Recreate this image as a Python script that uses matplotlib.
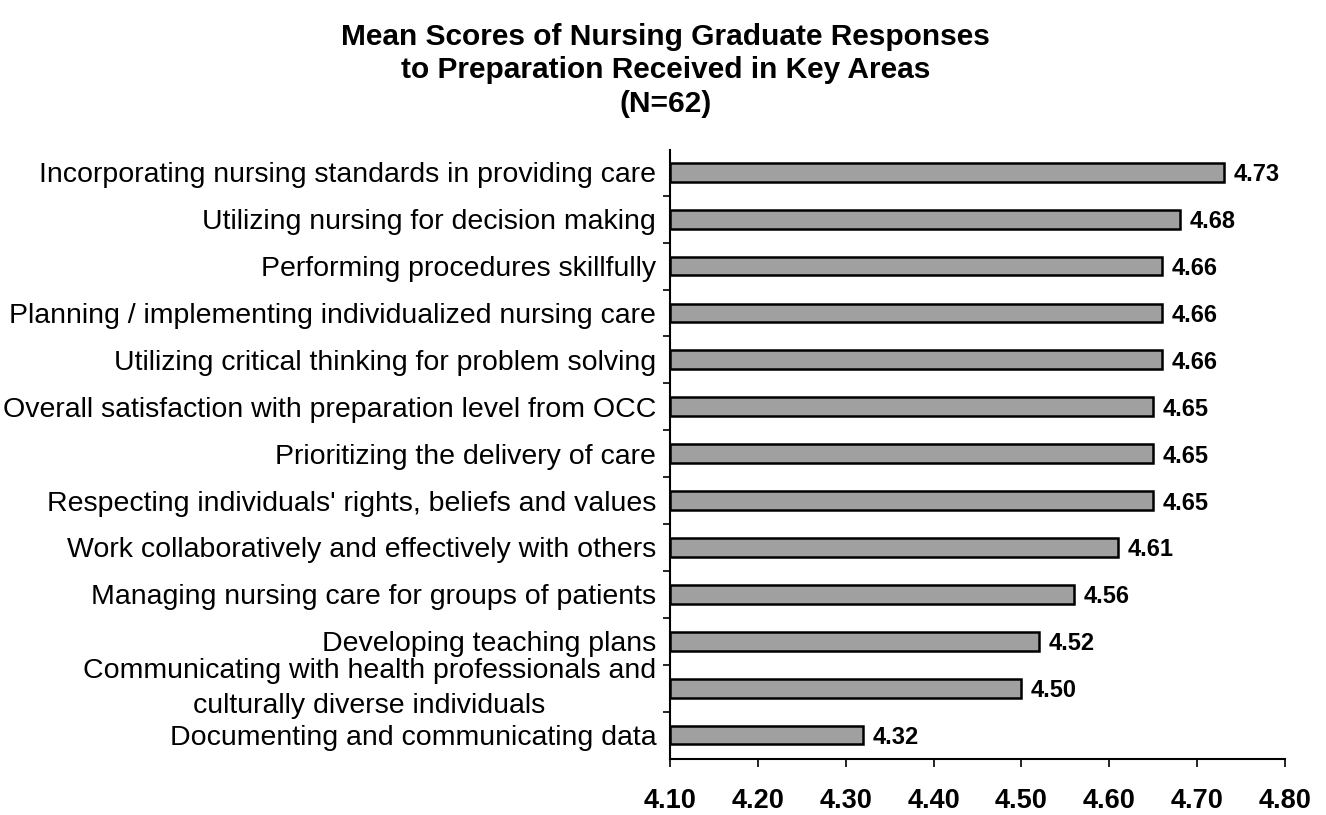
import matplotlib
matplotlib.use("Agg")
import matplotlib.pyplot as plt
from matplotlib.transforms import ScaledTranslation
import numpy as np

# categories top to bottom, as printed
areas = [
    "Incorporating nursing standards in providing care",
    "Utilizing nursing for decision making",
    "Performing procedures skillfully",
    "Planning / implementing individualized nursing care",
    "Utilizing critical thinking for problem solving",
    "Overall satisfaction with preparation level from OCC",
    "Prioritizing the delivery of care",
    "Respecting individuals' rights, beliefs and values",
    "Work collaboratively and effectively with others",
    "Managing nursing care for groups of patients",
    "Developing teaching plans",
    "Communicating with health professionals and\nculturally diverse individuals",
    "Documenting and communicating data",
]
scores = [4.73, 4.68, 4.66, 4.66, 4.66, 4.65, 4.65, 4.65, 4.61, 4.56, 4.52, 4.50, 4.32]
xticks = [4.10, 4.20, 4.30, 4.40, 4.50, 4.60, 4.70, 4.80]

plt.rcParams["font.family"] = ["Liberation Sans", "DejaVu Sans"]

fig = plt.figure(figsize=(13.26, 8.15), dpi=100)
ax = fig.add_axes([0.5053, 0.0687, 0.4638, 0.747])

y = np.arange(len(areas))
ax.barh(y, np.array(scores) - 4.10, left=4.10, height=0.4,
        color="#a0a0a0", edgecolor="black", linewidth=1.8)
for yi, v in zip(y, scores):
    ax.text(v + 0.011, yi, f"{v:.2f}", va="center_baseline", ha="left",
            fontsize=17, fontweight="bold")

ax.set_xlim(4.10, 4.80)
ax.set_ylim(len(areas) - 0.49, -0.47)
ax.set_xticks(xticks)
ax.set_xticklabels([f"{t:.2f}" for t in xticks], fontsize=19.5,
                   fontweight="bold")
ax.set_yticks(y)
ax.set_yticklabels(areas, fontsize=20.5, multialignment="center",
                   linespacing=1.45)
ax.set_yticks(np.arange(len(areas) - 1) + 0.5, minor=True)
ax.tick_params(axis="y", which="major", length=0, pad=10)
ax.tick_params(axis="y", which="minor", length=5, width=1.2, direction="out")
ax.tick_params(axis="x", length=6, width=1.2, direction="out", pad=15)
for s in ("top", "right"):
    ax.spines[s].set_visible(False)
for s in ("left", "bottom"):
    ax.spines[s].set_linewidth(1.5)

# the two-line label sits a little above its bar in the original
two_line = ax.get_yticklabels()[11]
two_line.set_transform(two_line.get_transform()
                       + ScaledTranslation(0, 5 / 72, fig.dpi_scale_trans))

fig.text(0.502, 0.972,
         "Mean Scores of Nursing Graduate Responses\n"
         "to Preparation Received in Key Areas\n(N=62)",
         ha="center", va="top", fontsize=21.5, fontweight="bold",
         linespacing=1.25)

fig.savefig("out.png", dpi=100)
